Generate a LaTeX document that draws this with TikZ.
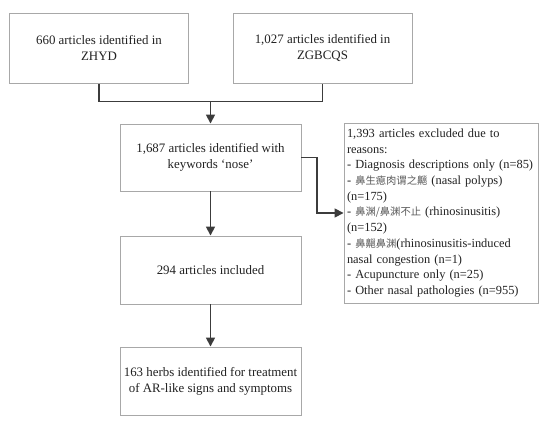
\documentclass[tikz,border=0pt]{standalone}
\usepackage{fontspec}
\setmainfont{Liberation Serif}
\newfontfamily\cjk{Noto Sans CJK SC}
\usetikzlibrary{arrows.meta}
\definecolor{boxline}{HTML}{A8A8A8}
\definecolor{arrowc}{HTML}{3C3C3C}
\definecolor{txt}{HTML}{222222}
\newcommand{\zh}[1]{{\cjk\color{txt!75!white}\fontsize{10.3}{15.7}\selectfont #1}}
\begin{document}
\begin{tikzpicture}[x=1pt,y=-1pt,
  flowbox/.style={draw=boxline, line width=0.9pt, fill=white, text=txt,
    align=center, inner sep=0pt, font=\fontsize{12.9}{15.8}\selectfont},
  conn/.style={draw=arrowc, line width=1.6pt},
  arr/.style={conn, -{Triangle[width=9pt,length=9pt]}}]
\useasboundingbox (0,0) rectangle (550,425);
\node[flowbox, minimum width=179pt, minimum height=70.5pt] (zhyd) at (99,48.25)
  {660 articles identified in\\ZHYD};
\node[flowbox, minimum width=179pt, minimum height=70.5pt] (zgb) at (322.5,48.25)
  {1,027 articles identified in\\ZGBCQS};
\node[flowbox, minimum width=181pt, minimum height=67pt] (kw) at (210.5,157.5)
  {1,687 articles identified with\\keywords ‘nose’};
\node[flowbox, minimum width=181pt, minimum height=68pt] (inc) at (210.5,270)
  {294 articles included};
\node[flowbox, minimum width=181pt, minimum height=68pt] (herb) at (210.5,381)
  {163 herbs identified for treatment\\of AR-like signs and symptoms};
\node[flowbox, minimum width=194pt, minimum height=180pt, align=left,
  text width=188pt, font=\fontsize{12.4}{15.7}\selectfont] (exc) at (441,213)
  {1,393 articles excluded due to\\
   reasons:\\
   \makebox[188pt][l]{- Diagnosis descriptions only (n=85)}\\
   - \zh{鼻生瘜肉谓之齆} (nasal polyps)\\
   (n=175)\\
   - \zh{鼻渊/鼻渊不止} (rhinosinusitis)\\
   (n=152)\\
   - \zh{鼻齆鼻渊}(rhinosinusitis-induced\\
   nasal congestion (n=1)\\
   - Acupuncture only (n=25)\\
   - Other nasal pathologies (n=955)};
\coordinate (j1) at (zhyd.south |- 0,101.7);
\coordinate (j2) at (zgb.south |- 0,101.7);
\coordinate (jm) at (kw.north |- 0,101.7);
\draw[conn] (zhyd.south) -- (j1) -- (j2) -- (zgb.south);
\draw[arr] (jm) -- (kw.north);
\draw[arr] (kw.south) -- (inc.north);
\draw[arr] (inc.south) -- (herb.north);
\coordinate (e1) at (317,157.5);
\coordinate (e2) at (317,213);
\draw[arr] (kw.east) -- (e1) -- (e2) -- (exc.west);
\end{tikzpicture}
\end{document}
